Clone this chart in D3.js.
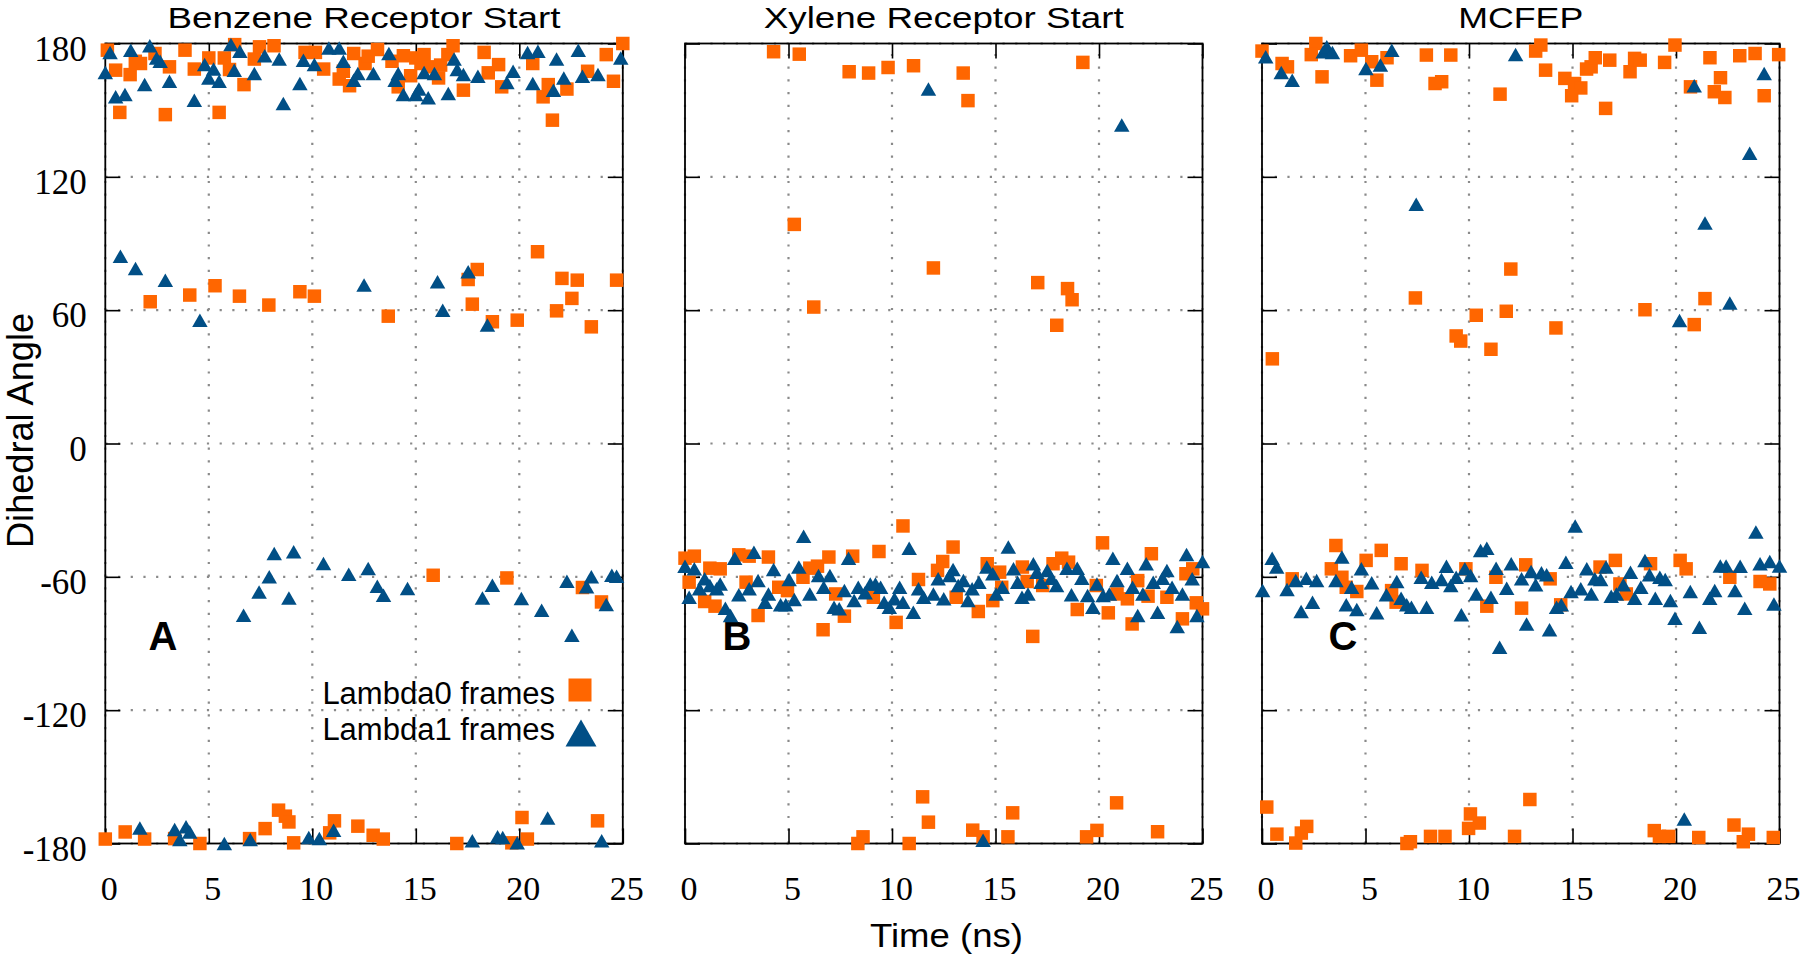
<!DOCTYPE html>
<html><head><meta charset="utf-8">
<script src="https://cdn.jsdelivr.net/npm/d3@7"></script>
<style>body{margin:0;background:#fff}svg{display:block}</style>
</head><body>
<svg id="c" width="1800" height="955"></svg>
<script>
// ---------- data ----------
const xTicks = [0, 5, 10, 15, 20, 25];
const yTicks = [-180, -120, -60, 0, 60, 120, 180];
const panelTitles = ["Benzene Receptor Start", "Xylene Receptor Start", "MCFEP"];
const panelLetters = ["A", "B", "C"];
const legendLabels = ["Lambda0 frames", "Lambda1 frames"];
const xLabel = "Time (ns)";
const yLabel = "Dihedral Angle";

// [time ns, dihedral angle deg]
const benzeneL0 = [
 [0.1,177],[0.5,168],[0.7,149],[1.2,166],[1.45,172],[1.7,171],[2.4,175.5],[2.9,148],[3.1,169.5],[3.85,177],
 [4.3,168.5],[5.0,173.5],[5.5,149],[5.75,173.5],[6.0,168.3],[6.25,179.5],[6.7,161.5],[7.2,173],[7.45,178.5],[8.15,179],
 [9.65,176],[10.15,176],[10.55,168.5],[11.3,164],[11.5,167.5],[11.8,161],[12.0,175.5],[12.55,171],[12.7,174.3],[13.15,177.3],
 [13.85,172],[14.15,160.5],[14.4,174.5],[14.75,165.5],[15.0,173.5],[15.25,171],[15.4,175],[15.6,169.5],[16.1,164.5],[16.2,170.3],
 [16.55,175],[16.8,179],[17.3,159],[18.3,176],[18.5,166.8],[19.0,170.5],[19.15,160.5],[20.65,171],[21.15,156],[21.4,161.5],
 [21.6,145.5],[22.3,159.5],[23.3,167.5],[24.2,175],[24.55,163],[25,180],
 [2.17,63.8],[4.08,66.8],[5.3,71],[6.48,66.3],[7.9,62.3],[9.4,68.3],[10.1,66.3],[13.67,57.3],[17.53,73.8],[17.97,78.3],
 [17.73,62.7],[18.7,54.8],[19.9,55.5],[20.88,86.3],[21.8,59.7],[22.06,74.3],[22.54,65.3],[22.8,73.5],[23.48,52.5],[24.7,73.5],
 [15.84,-59.3],[19.4,-60.5],[23.05,-64.8],[23.97,-71.3],
 [0,-178],[0.96,-174.8],[1.9,-178],[3.35,-177.8],[4.57,-180],[6.97,-177.8],[7.72,-173.3],[8.37,-165],[8.7,-167.7],[8.87,-170.3],
 [9.1,-179.7],[10.84,-175.2],[11.07,-169.8],[12.2,-172.2],[12.94,-176.3],[13.43,-178],[16.98,-180],[19.64,-179.7],[20.13,-168.3],[20.39,-178],
 [23.78,-169.8]
];
const benzeneL1 = [
 [0.23,176],[0,167],[0.5,156],[0.95,157],[1.23,177],[1.9,161.5],[2.15,179],[2.48,173.5],[2.65,172],[3.1,163],
 [4.3,154.5],[4.8,170.5],[5.0,164.5],[5.23,168.5],[5.5,163],[6.07,179.5],[6.5,176.5],[6.23,168],[7.2,166.5],[7.7,174.5],
 [8.4,173],[8.6,153],[9.4,162],[9.57,172.5],[10.1,170.5],[10.8,178],[11.3,178],[11.5,172],[12.0,163.5],[12.2,166.5],
 [12.95,166.5],[13.7,175.5],[14.0,163.5],[14.15,166.5],[14.4,157],[15.0,157],[15.15,159.5],[15.4,167],[15.6,155.6],[15.9,166.5],
 [16.57,157.5],[16.85,173],[17.0,168.3],[17.3,166],[18.0,165.3],[19.4,162.5],[19.7,167.5],[20.4,176],[20.9,176.5],[20.65,162],
 [21.65,159],[21.8,173],[22.15,164.5],[22.85,177],[23.05,165.3],[23.8,166],[24.9,173.5],
 [0.73,84.3],[1.46,78.8],[2.9,73.5],[4.57,55.5],[12.5,71.3],[16.05,72.8],[16.3,60],[17.53,77.3],[18.46,53.3],
 [6.68,-77.3],[7.43,-66.8],[7.92,-60],[8.16,-49.5],[8.87,-69.5],[9.1,-48.7],[10.54,-54],[11.76,-58.8],[12.7,-56.3],[13.14,-64.2],
 [13.44,-68.3],[14.6,-65.3],[18.22,-69.5],[18.7,-63.8],[20.1,-69.8],[21.08,-75],[22.3,-62],[22.54,-86.3],[23.25,-64.5],[23.48,-60],
 [24.2,-72.4],[24.47,-59.3],[24.7,-59.7],
 [1.67,-173],[3.35,-173.7],[3.6,-178.2],[3.9,-172.5],[4.08,-174.8],[5.75,-180],[7,-178.2],[9.83,-177.3],[10.34,-177.8],[11.03,-174],
 [17.73,-178.8],[18.95,-177],[19.2,-177.3],[19.9,-179.7],[21.37,-168.5],[23.98,-178.8]
];
const xyleneL0 = [
 [4.28,176.3],[5.52,175.2],[7.93,167.3],[8.87,166.7],[9.81,169.2],[11.04,170],[13.44,166.7],[13.67,154.3],[19.22,171.5],
 [5.28,98.6],[12,79],[6.22,61.4],[17.04,72.4],[18.48,69.7],[18.7,64.7],[17.96,53.2],
 [0,-51.6],[0.45,-50.7],[0.2,-62.4],[0.95,-71.1],[1.45,-73.2],[1.2,-56.1],[1.7,-56.4],[2.6,-50.1],[3.1,-50.7],[2.95,-62.4],
 [3.53,-77.4],[4.03,-51.1],[4.53,-64.7],[4.95,-66.2],[5.7,-60.2],[6.03,-56.1],[6.4,-55.2],[6.95,-51.1],[6.67,-83.8],[7.28,-67.7],
 [7.7,-77.7],[8.1,-50.7],[9.37,-48.6],[9.1,-69.2],[10.2,-80.5],[10.53,-37.1],[11.28,-61.2],[12.2,-57.1],[12.45,-53.1],[12.95,-46.6],
 [13.1,-69.2],[14.17,-75.6],[14.6,-54.1],[15.2,-57.9],[15.3,-64.7],[14.87,-70.7],[16.3,-55.6],[16.53,-62.1],[16.8,-86.8],[17.28,-63.9],
 [17.78,-54.1],[18.2,-51.6],[18.53,-53.4],[18.95,-74.7],[20.17,-44.7],[19.87,-63.9],[20.45,-76.2],[20.87,-67.7],[21.37,-69.9],[21.6,-81.2],
 [21.87,-61.7],[22.53,-49.6],[22.37,-68.7],[23.28,-69.2],[24.03,-78.9],[24.2,-58.6],[24.53,-56.4],[24.7,-71.7],[25,-74.4],
 [11.48,-159],[11.76,-170.4],[8.35,-180],[8.6,-177],[10.83,-180],[13.9,-174],[14.4,-177],[15.83,-166.2],[15.6,-177],[19.4,-177],
 [19.9,-174.1],[20.85,-161.7],[22.83,-174.7]
];
const xyleneL1 = [
 [11.76,159.5],[21.1,143.3],
 [0,-55.2],[0.45,-56.4],[0.2,-69.2],[0.7,-65.4],[0.95,-60.9],[1.2,-63.9],[1.53,-65.4],[1.7,-63.2],[1.95,-74.1],[2.2,-77.4],
 [2.4,-51.6],[2.6,-68.1],[3.1,-65.4],[3.33,-48.9],[3.53,-61.7],[3.87,-71.4],[4.03,-67.7],[4.28,-56.7],[4.62,-72.6],[4.87,-72.6],
 [5.03,-61.2],[5.28,-70.2],[5.5,-55.6],[5.73,-41.7],[6.03,-67.7],[6.45,-59.4],[6.7,-64.7],[7.0,-59.4],[7.2,-73.7],[7.45,-74.4],
 [7.7,-66.2],[7.9,-51.6],[8.17,-70.7],[8.37,-64.7],[8.7,-67.2],[8.95,-63.2],[9.2,-63.2],[9.45,-64.7],[9.62,-71.4],[9.87,-73.7],
 [10.12,-69.9],[10.37,-64.7],[10.53,-71.4],[10.83,-47.1],[11.03,-75.9],[11.28,-65.4],[11.53,-69.2],[12.0,-67.7],[12.23,-60.9],[12.5,-69.9],
 [12.78,-59.4],[12.95,-56.7],[13.2,-63.9],[13.45,-61.7],[13.67,-70.7],[13.87,-65.4],[14.2,-62.4],[14.58,-55.6],[14.87,-58.6],[15.03,-67.7],
 [15.33,-64.7],[15.62,-46.6],[15.87,-56.4],[16.07,-62.4],[16.28,-69.2],[16.57,-67.7],[16.83,-54.1],[17.0,-57.9],[17.2,-62.4],[17.5,-57.1],
 [17.7,-60.6],[17.95,-63.9],[18.45,-56.1],[18.67,-68.1],[18.95,-56.1],[19.17,-60.6],[19.45,-68.4],[19.7,-73.7],[19.9,-63.2],[20.2,-68.4],
 [20.5,-67.7],[20.67,-51.6],[20.87,-61.7],[21.37,-56.1],[21.62,-64.7],[21.87,-77.4],[22.12,-67.7],[22.28,-54.1],[22.62,-62.4],[22.83,-75.9],
 [23.07,-60.6],[23.28,-57.1],[23.53,-64.7],[23.78,-82.3],[24.03,-67.7],[24.23,-49.9],[24.5,-60.9],[24.73,-77.4],[25,-53.1],
 [14.4,-178.5]
];
const mcfepL0 = [
 [0,176.6],[2.6,180],[2.38,175],[0.97,171],[1.23,169.5],[2.9,165],[4.28,174.5],[4.8,177],[5.3,171.8],[6.04,173.6],
 [5.55,163.5],[7.94,174.8],[9.12,174.8],[8.36,162],[8.68,162.8],[11.5,157.2],[13.47,179.3],[13.22,176.6],[13.7,168],[14.63,164.3],
 [15.1,162],[15.4,160],[14.96,156.5],[15.68,168.5],[15.9,169.5],[16.1,173.6],[16.8,172.5],[16.6,150.8],[17.78,167.3],[18.0,173.3],
 [18.27,172.5],[19.45,171.5],[19.95,179.3],[20.7,160.5],[21.64,173.6],[22.15,164.6],[21.85,158.3],[22.36,155.7],[23.08,174.5],[23.82,175.5],
 [24.26,156.5],[24.96,175],
 [12.02,78.5],[7.41,65.5],[10.35,57.7],[11.8,59.5],[14.2,52],[18.5,60.2],[21.4,65.2],[20.88,53.5],[0.5,38.1],[9.38,48.4],
 [9.6,46.1],[11.06,42.4],
 [3.57,-45.9],[5.76,-48.1],[3.35,-56.4],[5.03,-52.6],[6.72,-54.1],[3.86,-60.2],[1.46,-60.9],[4.07,-64.7],[4.58,-66.6],[6.26,-66.2],
 [6.48,-71.4],[7.73,-57.1],[9.85,-56.4],[11.3,-60.2],[10.86,-73.2],[12.74,-54.6],[12.54,-74.1],[13.92,-60.9],[14.43,-72.6],[16.33,-55.6],
 [17.07,-52.6],[17.29,-63.2],[17.6,-67.7],[18.77,-54.1],[20.2,-52.6],[20.49,-56.4],[22.6,-60.2],[24.06,-62.1],[24.53,-63.2],
 [0.23,-163.6],[0.72,-175.8],[1.63,-179.8],[1.9,-175.3],[2.16,-172.3],[7.0,-180],[7.17,-179.2],[8.14,-176.8],[8.84,-176.8],[9.98,-173.2],
 [10.07,-166.7],[10.5,-170.8],[12.2,-176.8],[12.94,-160.2],[18.95,-174.2],[19.2,-176.8],[19.65,-176.8],[21.1,-177.3],[22.8,-171.7],[23.25,-179.2],
 [23.5,-175.8],[24.7,-177.3]
];
const mcfepL1 = [
 [0.18,174],[0.93,167],[1.46,163.5],[2.96,176.3],[3.13,178.5],[3.4,176],[5.02,168.8],[5.72,170.3],[6.27,177],[12.25,175],
 [20.88,161],[24.26,166.5],[23.56,130.6],[7.45,107.7],[21.4,99.2],[22.6,63.2],[20.17,55.3],
 [0.03,-66.2],[0.49,-51.6],[0.71,-55.6],[1.21,-65.7],[1.63,-61.7],[1.89,-75.6],[2.14,-60.6],[2.44,-71.4],[2.64,-61.7],[3.57,-61.7],
 [3.86,-51.1],[4.07,-72.6],[4.33,-64.7],[4.58,-74.7],[4.8,-56.4],[5.3,-62.7],[5.54,-76.2],[6.01,-68.1],[6.51,-62.1],[6.72,-69.6],
 [6.99,-72.6],[7.22,-73.7],[7.69,-60.2],[7.95,-73.7],[8.2,-62.4],[8.67,-61.2],[8.91,-55.2],[9.12,-63.9],[9.38,-60.2],[9.63,-77.1],
 [9.8,-56.4],[10.08,-59.4],[10.35,-67.7],[10.56,-48.1],[10.86,-47.1],[11.06,-69.2],[11.31,-56.1],[11.82,-65.1],[12.04,-54.1],[12.54,-60.9],
 [12.78,-81.2],[13.0,-57.6],[13.22,-63.6],[13.5,-58.2],[13.75,-59.1],[13.89,-83.8],[14.23,-73.7],[14.46,-72.6],[14.68,-53.4],[14.93,-66.6],
 [15.13,-37.1],[15.4,-65.4],[15.69,-56.4],[15.91,-67.7],[16.08,-60.9],[16.36,-61.2],[16.62,-55.6],[16.87,-68.7],[17.12,-67.7],[17.46,-63.6],
 [17.8,-57.9],[18.0,-69.6],[18.3,-64.7],[18.5,-52.6],[18.72,-59.1],[19.0,-69.6],[19.22,-60.2],[19.48,-61.2],[19.73,-70.7],[19.95,-78.6],
 [20.69,-66.6],[21.13,-82.7],[21.63,-69.6],[21.87,-66.2],[22.14,-55.1],[22.42,-55.1],[22.85,-66.2],[23.1,-55.2],[23.32,-74.1],[23.86,-39.8],
 [24.06,-54.1],[24.53,-53.1],[24.73,-72.2],[25,-55.1],[11.48,-91.7],
 [20.4,-169]
];

// ---------- layout ----------
const W = 1800, H = 955;
const plotTop = 43.5, plotBottom = 843.5, plotW = 517.5;
const panelLeft = [105.3, 685, 1262];
const titleWidths = [393, 360, 125];
const letterX = [163, 737, 1343];
const ORANGE = "#ff6600", BLUE = "#014f86";
const SANS = "'Liberation Sans', Arial, Helvetica, sans-serif";
const SERIF = "'Liberation Serif', 'Times New Roman', serif";

const svg = d3.select("#c");
svg.append("rect").attr("width", W).attr("height", H).attr("fill", "#fff");

const series = [[benzeneL0, benzeneL1], [xyleneL0, xyleneL1], [mcfepL0, mcfepL1]];
const y = d3.scaleLinear().domain([-180, 180]).range([plotBottom, plotTop]);

const triPath = (w, h) => `M0,${-h/2}L${w/2},${h/2}L${-w/2},${h/2}Z`;

series.forEach((pair, i) => {
  const x = d3.scaleLinear().domain([0, 25]).range([panelLeft[i], panelLeft[i] + plotW]);
  const g = svg.append("g");

  // dotted grid
  const grid = g.append("g").attr("stroke", "#8a8a8a").attr("stroke-width", 2.2)
    .attr("stroke-dasharray", "2.2,10.5");
  grid.selectAll("line.v").data(xTicks).join("line").attr("class", "v")
    .attr("x1", d => x(d)).attr("x2", d => x(d)).attr("y1", y(-180)).attr("y2", y(180));
  grid.selectAll("line.h").data(yTicks).join("line").attr("class", "h")
    .attr("x1", x(0)).attr("x2", x(25)).attr("y1", d => y(d)).attr("y2", d => y(d));

  // axes (inward ticks on all sides)
  const axB = g.append("g").attr("transform", `translate(0,${plotBottom})`)
    .call(d3.axisBottom(x).tickValues(xTicks).tickSize(-15).tickPadding(0));
  axB.selectAll("text").attr("y", 56.5).attr("dy", 0).attr("dx", 3.5)
    .style("font-family", SERIF).style("font-size", "34px").attr("fill", "#000");
  g.append("g").attr("transform", `translate(0,${plotTop})`)
    .call(d3.axisTop(x).tickValues(xTicks).tickSize(-15).tickFormat(""));
  const axL = g.append("g").attr("transform", `translate(${panelLeft[i]},0)`)
    .call(d3.axisLeft(y).tickValues(yTicks).tickSize(-15).tickPadding(0)
      .tickFormat(i === 0 ? (d => String(d)) : ""));
  axL.selectAll("text").attr("x", -18.5).attr("dy", 16.5)
    .style("font-family", SERIF).style("font-size", "35px").attr("fill", "#000");
  g.append("g").attr("transform", `translate(${panelLeft[i] + plotW},0)`)
    .call(d3.axisRight(y).tickValues(yTicks).tickSize(-15).tickFormat(""));
  g.selectAll(".domain").remove();
  g.selectAll(".tick line").attr("stroke", "#000").attr("stroke-width", 1.6);

  // frame
  g.append("rect").attr("x", x(0)).attr("y", y(180)).attr("width", x(25) - x(0))
    .attr("height", y(-180) - y(180)).attr("fill", "none").attr("stroke", "#000").attr("stroke-width", 1.8);

  // title
  g.append("text").attr("x", (x(0) + x(25)) / 2).attr("y", 28).attr("text-anchor", "middle")
    .style("font-family", SANS).style("font-size", "30px")
    .attr("textLength", titleWidths[i]).attr("lengthAdjust", "spacingAndGlyphs")
    .text(panelTitles[i]);

  // panel letter
  g.append("text").attr("x", letterX[i]).attr("y", 650).attr("text-anchor", "middle")
    .style("font-family", SANS).style("font-size", "40px").style("font-weight", "bold")
    .text(panelLetters[i]);

  // Lambda0 squares
  g.append("g").selectAll("path").data(pair[0]).join("path")
    .attr("d", d3.symbol(d3.symbolSquare, 182))
    .attr("transform", d => `translate(${x(d[0])},${y(d[1])})`)
    .attr("fill", ORANGE);
  // Lambda1 triangles
  g.append("g").selectAll("path").data(pair[1]).join("path")
    .attr("d", triPath(15.5, 13.5))
    .attr("transform", d => `translate(${x(d[0])},${y(d[1])})`)
    .attr("fill", BLUE);
});

// legend (panel A)
const lg = svg.append("g").style("font-family", SANS).style("font-size", "31px");
lg.append("text").attr("x", 555).attr("y", 704).attr("text-anchor", "end").text(legendLabels[0]);
lg.append("text").attr("x", 555).attr("y", 740).attr("text-anchor", "end").text(legendLabels[1]);
lg.append("rect").attr("x", 580 - 11.5).attr("y", 690 - 11.5).attr("width", 23).attr("height", 23).attr("fill", ORANGE);
lg.append("path").attr("d", triPath(31, 27)).attr("transform", "translate(581,733)").attr("fill", BLUE);

// axis labels
svg.append("text").attr("x", 946.5).attr("y", 947).attr("text-anchor", "middle")
  .style("font-family", SANS).style("font-size", "33px")
  .attr("textLength", 153).attr("lengthAdjust", "spacingAndGlyphs").text(xLabel);
svg.append("text").attr("transform", "translate(33,430.5) rotate(-90)").attr("text-anchor", "middle")
  .style("font-family", SANS).style("font-size", "36px")
  .attr("textLength", 235).attr("lengthAdjust", "spacingAndGlyphs").text(yLabel);
</script>
</body></html>
